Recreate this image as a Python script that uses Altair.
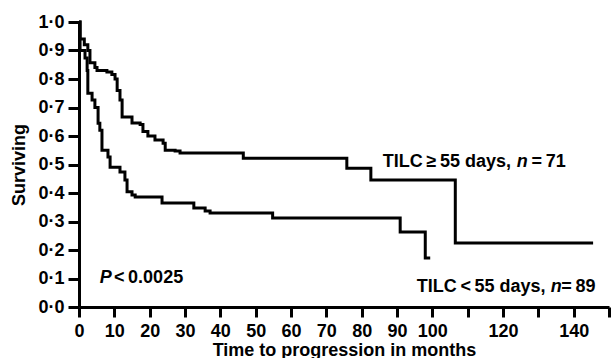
import altair as alt
import pandas as pd

# Kaplan-Meier curves (time in months, surviving fraction), step-after
hi_time = [0, 0.3, 1.5, 2.5, 3.1, 4.5, 5.1, 7.9, 9.3, 10.2, 10.8, 11.6, 12.2, 15.0,
           17.3, 18.1, 19.5, 21.5, 23.8, 24.4, 27.2, 28.6, 46.5, 75.8, 82.6, 106.5, 145.5]
hi_surv = [1.0, 0.94, 0.92, 0.90, 0.857, 0.84, 0.83, 0.825, 0.816, 0.80, 0.76, 0.726, 0.667, 0.646,
           0.64, 0.616, 0.60, 0.586, 0.575, 0.55, 0.547, 0.54, 0.522, 0.487, 0.446, 0.225, 0.225]

lo_time = [0, 0.3, 1.7, 2.3, 2.5, 3.7, 4.5, 5.4, 5.9, 6.5, 8.2, 8.8, 11.6, 13.0, 13.6,
           15.0, 15.9, 23.5, 32.5, 35.7, 37.1, 54.8, 90.9, 98.0, 99.4]
lo_surv = [1.0, 0.90, 0.874, 0.83, 0.75, 0.726, 0.70, 0.645, 0.62, 0.55, 0.526, 0.49, 0.474, 0.446, 0.404,
           0.393, 0.386, 0.365, 0.347, 0.337, 0.33, 0.312, 0.263, 0.172, 0.172]

x_ticks = list(range(0, 151, 10))
x_labelled = [0, 10, 20, 30, 40, 50, 60, 70, 80, 90, 100, 120, 140]
y_ticks = [i / 10 for i in range(11)]

# annotation pieces: text, time, surv, italic
ann_text = ["TILC\u2009\u2265\u200955 days,", "n", "=\u200971",
            "TILC\u2009<\u200955 days,", "n", "=\u200989",
            "P", "<\u20090.0025"]
ann_t = [86.0, 123.9, 128.1, 95.6, 133.5, 136.5, 5.9, 9.9]
ann_s = [0.509, 0.509, 0.509, 0.07, 0.07, 0.07, 0.102, 0.102]
ann_italic = [False, True, False, False, True, False, True, False]

FONT = "Liberation Sans"
FS = 18

curves = pd.DataFrame({
    "t": hi_time + lo_time,
    "s": hi_surv + lo_surv,
    "group": ["hi"] * len(hi_time) + ["lo"] * len(lo_time),
})
ann = pd.DataFrame({"text": ann_text, "t": ann_t, "s": ann_s, "italic": ann_italic})

xscale = alt.Scale(domain=[0, 150], nice=False, zero=False)
yscale = alt.Scale(domain=[0, 1], nice=False)

lab_expr = " || ".join(f"datum.value == {v}" for v in x_labelled)

xaxis = alt.Axis(values=x_ticks, title="Time to progression in months",
                 labelExpr=f"({lab_expr}) ? datum.label : ''",
                 labelFlush=False, labelOverlap=False)
yaxis = alt.Axis(values=y_ticks, title="Surviving", labelOverlap=False,
                 labelExpr="replace(format(datum.value, '.1f'), '.', '\u00b7')")

X = alt.X("t:Q", scale=xscale, axis=xaxis)
Y = alt.Y("s:Q", scale=yscale, axis=yaxis)

lines = alt.Chart(curves).mark_line(
    interpolate="step-after", color="black", strokeWidth=3
).encode(x=X, y=Y, detail="group:N")

txt_reg = alt.Chart(ann[~ann["italic"]]).mark_text(
    align="left", baseline="middle", font=FONT, fontSize=FS, fontWeight="bold", color="black"
).encode(x=X, y=Y, text="text:N")

txt_it = alt.Chart(ann[ann["italic"]]).mark_text(
    align="left", baseline="middle", font=FONT, fontSize=FS, fontWeight="bold",
    fontStyle="italic", color="black"
).encode(x=X, y=Y, text="text:N")

chart = alt.layer(lines, txt_reg, txt_it).properties(
    width=530, height=285,
    padding={"left": 79, "top": 22, "right": 5, "bottom": 51},
    autosize=alt.AutoSizeParams(type="none"),
).configure_view(stroke=None).configure_axis(
    grid=False, domainColor="black", domainWidth=3, tickColor="black", tickWidth=3,
    labelFont=FONT, labelFontSize=FS, labelFontWeight="bold", labelColor="black",
    titleFont=FONT, titleFontSize=FS, titleFontWeight="bold", titleColor="black",
).configure_axisX(
    tickSize=10, labelPadding=5, titlePadding=1,
).configure_axisY(
    tickSize=11, labelPadding=4, titlePadding=9,
)

chart.save("out.html", embed_options={"renderer": "svg", "actions": False})
